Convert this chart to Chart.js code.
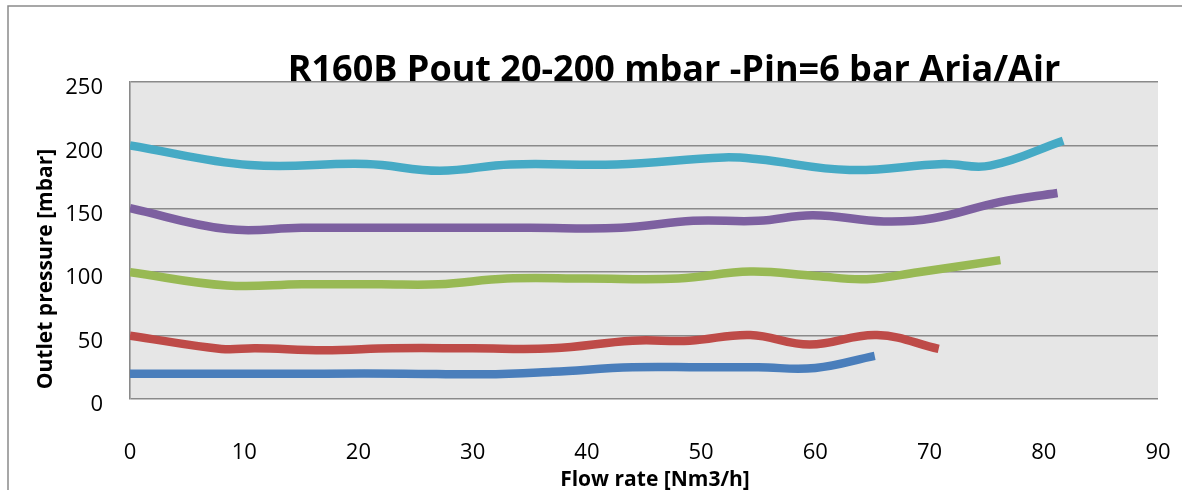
<!DOCTYPE html>
<html>
<head>
<meta charset="utf-8">
<script src="https://cdn.jsdelivr.net/npm/chart.js@4"></script>
<style>
  html, body { margin: 0; padding: 0; background: #fff; overflow: hidden; }
  canvas { display: block; }
</style>
</head>
<body>
<canvas id="chart" width="1182" height="490" style="width:1182px;height:490px"></canvas>
<script>
const chartTitle = 'R160B Pout 20-200 mbar -Pin=6 bar Aria/Air';
const xTitle = 'Flow rate [Nm3/h]';
const yTitle = 'Outlet pressure [mbar]';

const xTicks = [0, 10, 20, 30, 40, 50, 60, 70, 80, 90];
const yTicks = [0, 50, 100, 150, 200, 250];

// one flow/pressure pair of arrays per set point
const flow20 = [0, 8, 17, 24, 31, 37, 44, 50, 55, 60, 65.2];
const pout20 = [20, 20, 20, 20, 19.5, 21.5, 25, 25, 25, 24.5, 34];

const flow50 = [0, 8, 11, 17, 23, 30, 37, 44, 49, 54.3, 59.5, 65.4, 70.8];
const pout50 = [50, 39.5, 40, 38.5, 40, 40, 40, 46, 46, 50.5, 43, 50.5, 39.5];

const flow100 = [0, 8.5, 15, 22, 27, 33, 40, 48, 54.3, 60, 64.5, 69, 76.2];
const pout100 = [100, 89.5, 90.5, 90.5, 90.5, 95, 95, 95, 100.5, 97, 94.5, 100, 109.5];

const flow150 = [0, 8.5, 15, 25, 35, 43, 49.3, 55, 59.8, 66, 70.3, 76.2, 81.2];
const pout150 = [150.5, 134, 135, 135, 135, 135, 140.5, 140.5, 145, 140, 142.5, 155.5, 162.5];

const flow200 = [0, 10.5, 20.7, 27.1, 33.3, 42.6, 52, 55, 63, 71.2, 75.3, 81.7];
const pout200 = [200, 184.5, 185.3, 180, 185, 185, 190.5, 189, 180.6, 185.3, 184, 203.7];

const colors = ['#4A7EBB', '#BE4B48', '#98B954', '#7D60A0', '#46AAC5'];

const pts = (xs, ys) => xs.map((x, i) => ({ x: x, y: ys[i] }));

const chartDeco = {
    id: 'chartDeco',
    beforeDraw(chart) {
        const { ctx, chartArea: a } = chart;
        ctx.save();
        ctx.strokeStyle = '#8a8a8a';
        ctx.lineWidth = 1.5;
        ctx.beginPath();
        ctx.moveTo(8, 495);
        ctx.lineTo(8, 6);
        ctx.lineTo(1190, 6);
        ctx.stroke();
        ctx.fillStyle = '#e6e6e6';
        ctx.fillRect(a.left, a.top, a.right - a.left, a.bottom - a.top);
        ctx.restore();
    },
    afterDraw(chart) {
        const { ctx } = chart;
        ctx.save();
        ctx.fillStyle = '#000';
        ctx.textAlign = 'center';
        ctx.textBaseline = 'alphabetic';
        ctx.font = 'bold 36px "Open Sans"';
        ctx.fillText(chartTitle, 674, 81);
        ctx.font = 'bold 21px "Open Sans"';
        ctx.fillText(xTitle, 655, 486);
        ctx.translate(52, 269);
        ctx.rotate(-Math.PI / 2);
        ctx.fillText(yTitle, 0, 0);
        ctx.restore();
    }
};

const datasets = [
    [flow20, pout20], [flow50, pout50], [flow100, pout100], [flow150, pout150], [flow200, pout200]
].map((d, i) => ({
    data: pts(d[0], d[1]),
    borderColor: colors[i],
    borderWidth: 8.5,
    pointRadius: 0,
    tension: 0.4,
    fill: false
}));

new Chart(document.getElementById('chart'), {
    type: 'line',
    data: { datasets: datasets },
    options: {
        responsive: false,
        devicePixelRatio: 1,
        animation: false,
        layout: { padding: { left: 0, top: 82, right: 24, bottom: 0 } },
        plugins: { legend: { display: false }, title: { display: false }, tooltip: { enabled: false } },
        scales: {
            x: {
                type: 'linear',
                min: 0, max: 90,
                afterBuildTicks: s => { s.ticks = xTicks.map(v => ({ value: v })); },
                afterFit: s => { s.height = 91; s.paddingLeft = 0; s.paddingRight = 0; },
                grid: { display: false },
                border: { display: false },
                ticks: { color: '#000', padding: 33, font: { family: 'Open Sans', size: 22 } }
            },
            y: {
                min: 0, max: 250,
                afterBuildTicks: s => { s.ticks = yTicks.map(v => ({ value: v })); },
                afterFit: s => { s.width = 130; s.paddingTop = 0; s.paddingBottom = 0; },
                grid: { color: '#8a8a8a', lineWidth: 1.6, drawTicks: false },
                border: { display: true, color: '#8a8a8a', width: 1.6 },
                ticks: { color: '#000', padding: 27, labelOffset: 6, font: { family: 'Open Sans', size: 22 } }
            }
        }
    },
    plugins: [chartDeco]
});
</script>
</body>
</html>
